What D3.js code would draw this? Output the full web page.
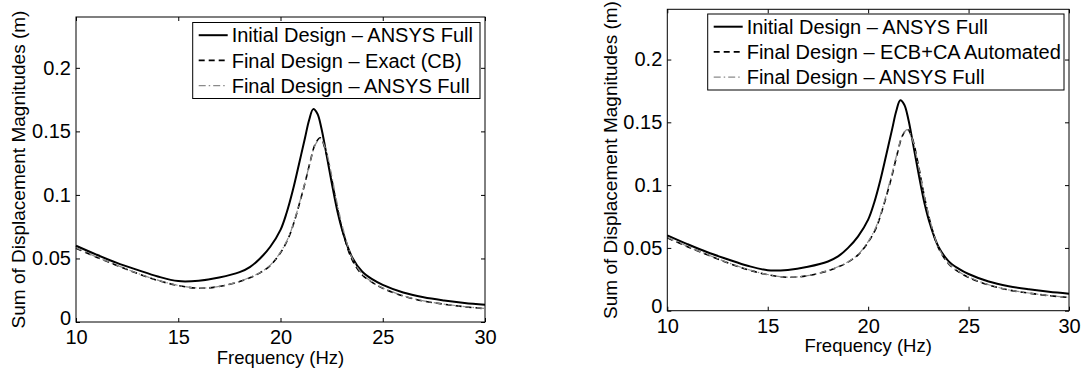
<!DOCTYPE html>
<html>
<head>
<meta charset="utf-8">
<script src="https://cdn.jsdelivr.net/npm/d3@7"></script>
<style>
  body { margin: 0; background: #fff; }
  svg { display: block; font-family: "Liberation Sans", Arial, sans-serif; }
</style>
</head>
<body>
<svg id="canvas" width="1090" height="371"></svg>
<script>
// values
let freqInit = [10, 11, 12, 13, 14, 15, 16, 17, 18, 18.5, 19, 19.5, 20, 20.3, 20.6, 20.9, 21.2, 21.4, 21.6, 21.8, 22.0, 22.2, 22.5, 22.8, 23.1, 23.5, 24, 24.5, 25, 26, 27, 28, 29, 30];
let initialAnsys = [0.060, 0.053, 0.0465, 0.041, 0.0358, 0.0322, 0.0325, 0.0350, 0.0392, 0.0432, 0.0500, 0.0592, 0.0725, 0.0860, 0.1035, 0.1240, 0.1450, 0.1590, 0.1675, 0.1640, 0.1525, 0.1360, 0.1100, 0.0860, 0.0680, 0.0510, 0.0395, 0.0335, 0.0292, 0.0232, 0.0195, 0.0170, 0.0150, 0.0135];

let freqFinal = [10, 11, 12, 13, 14, 15, 16, 17, 18, 18.5, 19, 19.5, 20, 20.4, 20.7, 21.0, 21.2, 21.45, 21.7, 21.95, 22.2, 22.5, 22.8, 23.1, 23.5, 24, 24.5, 25, 26, 27, 28, 29, 30];
let finalExact = [0.058, 0.051, 0.0445, 0.0382, 0.0327, 0.0287, 0.0266, 0.0279, 0.0318, 0.0348, 0.0387, 0.0445, 0.0545, 0.0665, 0.0805, 0.0975, 0.1095, 0.1260, 0.1400, 0.1450, 0.1350, 0.1130, 0.0880, 0.0680, 0.0490, 0.0370, 0.0310, 0.0265, 0.0205, 0.0165, 0.0140, 0.0120, 0.0105];
let finalEcbCa = [0.058, 0.051, 0.0445, 0.0382, 0.0327, 0.0287, 0.0266, 0.0279, 0.0318, 0.0348, 0.0387, 0.0445, 0.0545, 0.0660, 0.0800, 0.0965, 0.1085, 0.1250, 0.1390, 0.1445, 0.1370, 0.1160, 0.0910, 0.0700, 0.0500, 0.0375, 0.0310, 0.0265, 0.0205, 0.0165, 0.0140, 0.0120, 0.0105];
let finalAnsys = [0.0585, 0.0512, 0.0447, 0.0384, 0.0329, 0.0288, 0.0267, 0.0280, 0.0320, 0.0350, 0.0389, 0.0448, 0.0550, 0.0670, 0.0810, 0.0980, 0.1100, 0.1258, 0.1395, 0.1442, 0.1365, 0.1155, 0.0910, 0.0710, 0.0505, 0.0378, 0.0312, 0.0268, 0.0207, 0.0166, 0.0141, 0.0121, 0.0106];

let xTicks = [10, 15, 20, 25, 30];
let yTicks = [0, 0.05, 0.1, 0.15, 0.2];
let yTickLabels = ["0", "0.05", "0.1", "0.15", "0.2"];
let legendLeft = ["Initial Design \u2013 ANSYS Full", "Final Design \u2013 Exact (CB)", "Final Design \u2013 ANSYS Full"];
let legendRight = ["Initial Design \u2013 ANSYS Full", "Final Design \u2013 ECB+CA Automated", "Final Design \u2013 ANSYS Full"];

let styles = [
  { color: "#000", width: 2, dash: null },
  { color: "#000", width: 1.6, dash: "6,4" },
  { color: "#8a8a8a", width: 1.2, dash: "7,3,1.5,3" }
];

let canvas = d3.select("#canvas");

function drawPanel(box, series, labels, leg) {
  let x = d3.scaleLinear().domain([10, 30]).range([box.x0, box.x1]);
  let y = d3.scaleLinear().domain([0, 0.24]).range([box.y1, box.y0]);
  let g = canvas.append("g");

  // curves
  series.forEach((s, i) => {
    let line = d3.line()
      .x((d, j) => x(s.f[j]))
      .y((d) => y(d))
      .curve(d3.curveCatmullRom.alpha(0.5));
    g.append("path")
      .attr("d", line(s.v))
      .attr("fill", "none")
      .attr("stroke", styles[i].color)
      .attr("stroke-width", styles[i].width)
      .attr("stroke-dasharray", styles[i].dash);
  });

  // frame with inward ticks on all sides (matlab look)
  g.append("g").attr("transform", "translate(0," + box.y1 + ")")
    .call(d3.axisBottom(x).tickValues(xTicks).tickSize(-4).tickPadding(8))
    .call((a) => a.select(".domain").remove());
  g.append("g").attr("transform", "translate(0," + box.y0 + ")")
    .call(d3.axisTop(x).tickValues(xTicks).tickSize(-4).tickFormat(""))
    .call((a) => a.select(".domain").remove());
  g.append("g").attr("transform", "translate(" + box.x0 + ",0)")
    .call(d3.axisLeft(y).tickValues(yTicks).tickSize(-4).tickPadding(5).tickFormat((d, i) => yTickLabels[i]))
    .call((a) => a.select(".domain").remove())
    .call((a) => a.selectAll(".tick text").filter((d) => d === 0).attr("dy", "0.1em"));
  g.append("g").attr("transform", "translate(" + box.x1 + ",0)")
    .call(d3.axisRight(y).tickValues(yTicks).tickSize(-4).tickFormat(""))
    .call((a) => a.select(".domain").remove());
  g.selectAll(".tick line").attr("stroke", "#000");
  g.selectAll(".tick text").attr("fill", "#000").style("font-size", "20px")
    .style("font-family", "'Liberation Sans', Arial, sans-serif");

  g.append("rect")
    .attr("x", box.x0).attr("y", box.y0)
    .attr("width", box.x1 - box.x0).attr("height", box.y1 - box.y0)
    .attr("fill", "none").attr("stroke", "#000").attr("stroke-width", 1);

  // axis titles
  g.append("text")
    .attr("x", (box.x0 + box.x1) / 2).attr("y", box.y1 + 41.5)
    .attr("text-anchor", "middle").style("font-size", "18.5px")
    .text("Frequency (Hz)");
  g.append("text")
    .attr("transform", "translate(" + box.labX + "," + (box.y0 + box.y1) / 2 + ") rotate(-90)")
    .attr("text-anchor", "middle").attr("dy", "0.35em").style("font-size", "19px")
    .text("Sum of Displacement Magnitudes (m)");

  // legend
  let lg = g.append("g");
  lg.append("rect")
    .attr("x", leg.x).attr("y", leg.y).attr("width", leg.w).attr("height", 76)
    .attr("fill", "#fff").attr("stroke", "#000").attr("stroke-width", 1);
  labels.forEach((t, i) => {
    let ly = leg.y + 12.7 + i * 25.2;
    lg.append("line")
      .attr("x1", leg.x + 6).attr("x2", leg.x + 35)
      .attr("y1", ly).attr("y2", ly)
      .attr("stroke", styles[i].color)
      .attr("stroke-width", styles[i].width)
      .attr("stroke-dasharray", styles[i].dash);
    lg.append("text")
      .attr("x", leg.x + 39).attr("y", ly).attr("dy", "0.36em")
      .style("font-size", "20px")
      .text(t);
  });
}

drawPanel(
  { x0: 76, x1: 485, y0: 17, y1: 322, labX: 18 },
  [ { f: freqInit, v: initialAnsys }, { f: freqFinal, v: finalExact }, { f: freqFinal, v: finalAnsys } ],
  legendLeft,
  { x: 192.7, y: 22.5, w: 287.3 }
);

drawPanel(
  { x0: 667.3, x1: 1069, y0: 9.3, y1: 310.7, labX: 610 },
  [ { f: freqInit, v: initialAnsys }, { f: freqFinal, v: finalEcbCa }, { f: freqFinal, v: finalAnsys } ],
  legendRight,
  { x: 707.7, y: 14, w: 356.3 }
);
</script>
</body>
</html>
